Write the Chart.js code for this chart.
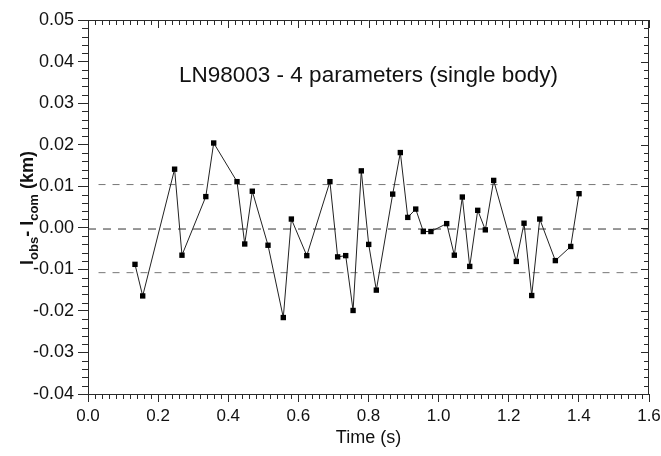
<!DOCTYPE html>
<html><head><meta charset="utf-8">
<script src="https://cdn.jsdelivr.net/npm/chart.js@4/dist/chart.umd.min.js"></script>
<style>html,body{margin:0;padding:0;background:#fff;}</style>
</head><body>
<canvas id="c" width="661" height="456"></canvas>
<script>
const timeS = [0.134, 0.156, 0.247, 0.268, 0.336, 0.3585, 0.425, 0.447, 0.4686, 0.5134,
  0.557, 0.580, 0.624, 0.690, 0.712, 0.735, 0.756, 0.7795, 0.8006, 0.8223,
  0.869, 0.8908, 0.912, 0.9347, 0.9564, 0.978, 1.023, 1.0448, 1.0676, 1.0887,
  1.1115, 1.1332, 1.157, 1.2216, 1.2436, 1.2655, 1.2884, 1.3329, 1.3768, 1.4005];
const residualKm = [-0.0088, -0.0164, 0.0141, -0.0066, 0.0075, 0.0204, 0.0111, -0.0039, 0.0088, -0.0042,
  -0.0216, 0.0021, -0.0067, 0.0111, -0.0070, -0.0067, -0.0199, 0.0137, -0.0040, -0.0150,
  0.0081, 0.0181, 0.0025, 0.0045, -0.0009, -0.0009, 0.0010, -0.0066, 0.0074, -0.0093,
  0.0042, -0.0005, 0.0114, -0.0081, 0.0011, -0.0163, 0.0021, -0.0079, -0.0045, 0.0082];
const upperLimit = 0.0104;
const zeroLevel = -0.0003;
const lowerLimit = -0.0108;
const xTickLabels = ['0.0','0.2','0.4','0.6','0.8','1.0','1.2','1.4','1.6'];
const yTickLabels = ['-0.04','-0.03','-0.02','-0.01','0.00','0.01','0.02','0.03','0.04','0.05'];
const chartTitle = 'LN98003 - 4 parameters (single body)';
const xTitle = 'Time (s)';

const points = timeS.map((t, i) => ({x: t, y: residualKm[i]}));
const FONT = '"Liberation Sans", Arial, sans-serif';
const AX = '#2a2a2a';

const decor = {
  id: 'decor',
  afterDraw(chart) {
    const {ctx, chartArea: a, scales: {x, y}} = chart;
    ctx.save();
    ctx.strokeStyle = AX;
    ctx.lineWidth = 1;
    ctx.beginPath();
    ctx.moveTo(a.left, a.top + 0.5); ctx.lineTo(a.right, a.top + 0.5);
    ctx.moveTo(a.right - 0.5, a.top); ctx.lineTo(a.right - 0.5, a.bottom);
    for (let i = 0; i <= 80; i++) {
      const px = Math.round(x.getPixelForValue(i * 0.02)) + 0.5;
      const major = i % 10 === 0;
      if (!major) { ctx.moveTo(px, a.bottom); ctx.lineTo(px, a.bottom + 5); }
      ctx.moveTo(px, a.top); ctx.lineTo(px, a.top + (major ? 8 : 5));
    }
    for (let i = 0; i <= 45; i++) {
      const py = Math.round(y.getPixelForValue(-0.04 + i * 0.002)) + 0.5;
      const major = i % 5 === 0;
      if (!major) { ctx.moveTo(a.left - 6, py); ctx.lineTo(a.left, py); }
      ctx.moveTo(a.right, py); ctx.lineTo(a.right - (major ? 8 : 5), py);
    }
    ctx.stroke();

    ctx.fillStyle = '#111';
    ctx.textAlign = 'center';
    ctx.textBaseline = 'middle';
    ctx.font = '22.5px ' + FONT;
    ctx.fillText(chartTitle, (a.left + a.right) / 2, 76);
    ctx.font = '18px ' + FONT;
    ctx.fillText(xTitle, (a.left + a.right) / 2, 438);

    ctx.translate(27, 208);
    ctx.rotate(-Math.PI / 2);
    const parts = [
      ['l', 'bold 18px ' + FONT, 0],
      ['obs', 'bold 13px ' + FONT, 5],
      ['- ', 'bold 18px ' + FONT, 0],
      ['l', 'bold 18px ' + FONT, 0],
      ['com', 'bold 13px ' + FONT, 5],
      [' (km)', 'bold 18px ' + FONT, 0]
    ];
    let total = 0;
    parts.forEach(p => { ctx.font = p[1]; total += ctx.measureText(p[0]).width; });
    let cx = -total / 2;
    ctx.textAlign = 'left';
    ctx.textBaseline = 'alphabetic';
    parts.forEach(p => {
      ctx.font = p[1];
      ctx.fillText(p[0], cx, 6 + p[2]);
      cx += ctx.measureText(p[0]).width;
    });
    ctx.restore();
  }
};

new Chart(document.getElementById('c'), {
  type: 'scatter',
  data: {
    datasets: [
      {data: points, showLine: true, borderColor: '#222', borderWidth: 1,
       pointStyle: 'rect', pointRadius: 3.8, pointBackgroundColor: '#000', pointBorderWidth: 0, order: 0},
      {data: [{x: 0.03, y: upperLimit}, {x: 1.575, y: upperLimit}], showLine: true,
       borderColor: '#777', borderWidth: 1, borderDash: [7, 7], pointRadius: 0, order: 1},
      {data: [{x: 0, y: zeroLevel}, {x: 1.6, y: zeroLevel}], showLine: true,
       borderColor: '#333', borderWidth: 1, borderDash: [8, 7], pointRadius: 0, order: 1},
      {data: [{x: 0.03, y: lowerLimit}, {x: 1.575, y: lowerLimit}], showLine: true,
       borderColor: '#777', borderWidth: 1, borderDash: [7, 7], pointRadius: 0, order: 1}
    ]
  },
  options: {
    responsive: false,
    animation: false,
    layout: {padding: {left: 0, top: 20, right: 12, bottom: 0}},
    plugins: {legend: {display: false}, tooltip: {enabled: false}, title: {display: false}},
    scales: {
      x: {
        type: 'linear', min: 0, max: 1.6,
        afterFit: s => { s.height = 62; s.paddingLeft = 0; s.paddingRight = 0; },
        ticks: {stepSize: 0.2, autoSkip: false, maxRotation: 0, padding: 4,
          color: '#111', font: {family: FONT, size: 17},
          callback: (v, i) => xTickLabels[i]},
        grid: {drawOnChartArea: false, drawTicks: true, tickLength: 8, tickColor: AX},
        border: {display: true, color: AX}
      },
      y: {
        type: 'linear', min: -0.04, max: 0.05,
        afterFit: s => { s.width = 88; s.paddingTop = 0; s.paddingBottom = 0; },
        ticks: {stepSize: 0.01, autoSkip: false, padding: 4,
          color: '#111', font: {family: FONT, size: 18},
          callback: (v, i) => yTickLabels[i]},
        grid: {drawOnChartArea: false, drawTicks: true, tickLength: 10, tickColor: AX},
        border: {display: true, color: AX}
      }
    }
  },
  plugins: [decor]
});
</script>
</body></html>
